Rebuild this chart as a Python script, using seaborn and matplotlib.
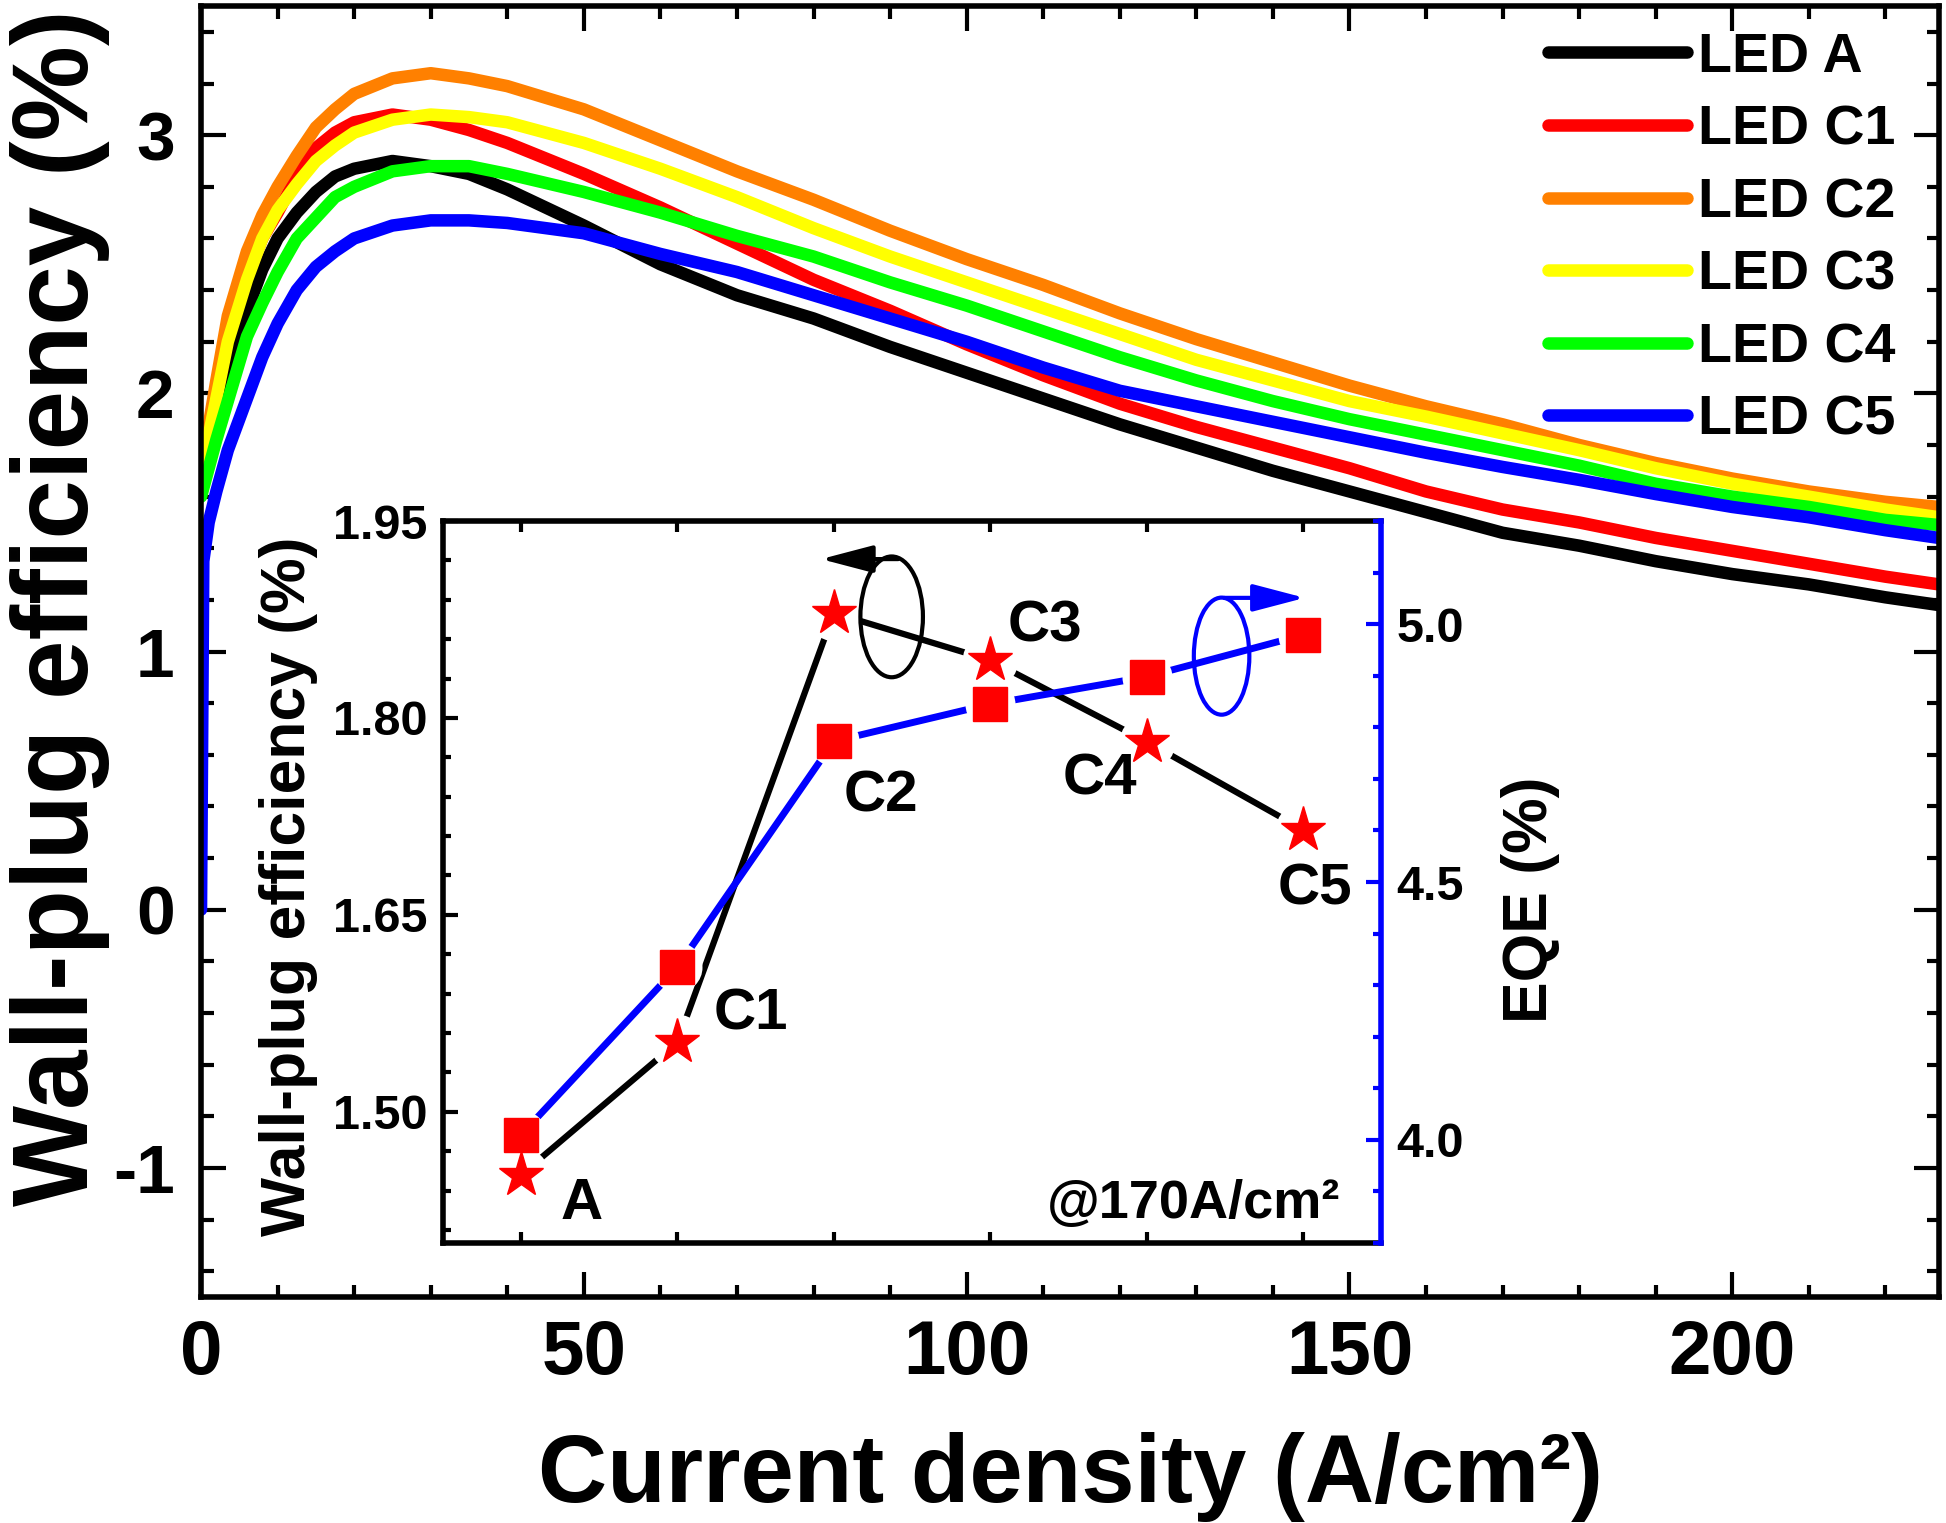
import numpy as np
import pandas as pd
import matplotlib
matplotlib.use("Agg")
import matplotlib.pyplot as plt
from matplotlib.patches import Ellipse
from matplotlib.ticker import MultipleLocator, FormatStrFormatter
import seaborn as sns

# wall-plug efficiency (%) vs current density (A/cm2)
j_common = [0, 2, 3.5, 6, 8, 10, 12.5, 15, 17.5, 20, 25, 30, 35, 40, 50, 60, 70,
            80, 90, 100, 110, 120, 130, 140, 150, 160, 170, 180, 190, 200, 210, 220, 227]
wpe_a = [1.68, 1.95, 2.12, 2.32, 2.48, 2.60, 2.70, 2.78, 2.84, 2.87, 2.90, 2.88, 2.85, 2.79,
         2.65, 2.50, 2.38, 2.29, 2.18, 2.08, 1.98, 1.88, 1.79, 1.70, 1.62, 1.54, 1.46, 1.41,
         1.35, 1.30, 1.26, 1.21, 1.18]
wpe_c1 = [1.69, 2.00, 2.22, 2.45, 2.60, 2.70, 2.84, 2.95, 3.01, 3.05, 3.08, 3.06, 3.02, 2.97,
          2.85, 2.72, 2.58, 2.44, 2.32, 2.19, 2.07, 1.96, 1.87, 1.79, 1.71, 1.62, 1.55, 1.50,
          1.44, 1.39, 1.34, 1.29, 1.26]
wpe_c2 = [1.70, 2.05, 2.30, 2.55, 2.69, 2.80, 2.92, 3.03, 3.10, 3.16, 3.22, 3.24, 3.22, 3.19,
          3.10, 2.98, 2.86, 2.75, 2.63, 2.52, 2.42, 2.31, 2.21, 2.12, 2.03, 1.95, 1.88, 1.80,
          1.73, 1.67, 1.62, 1.58, 1.56]
wpe_c3 = [1.69, 1.98, 2.20, 2.44, 2.60, 2.71, 2.81, 2.90, 2.96, 3.01, 3.06, 3.08, 3.07, 3.05,
          2.97, 2.87, 2.76, 2.64, 2.53, 2.43, 2.33, 2.23, 2.13, 2.05, 1.97, 1.91, 1.845, 1.78,
          1.71, 1.65, 1.60, 1.55, 1.52]
wpe_c4 = [1.60, 1.82, 1.97, 2.22, 2.35, 2.47, 2.60, 2.68, 2.76, 2.80, 2.86, 2.88, 2.88, 2.85,
          2.78, 2.70, 2.61, 2.53, 2.43, 2.34, 2.24, 2.14, 2.05, 1.97, 1.90, 1.84, 1.78, 1.72,
          1.65, 1.60, 1.56, 1.51, 1.49]
j_c5 = [0, 0.3, 1, 2, 3.5, 6, 8, 10, 12.5, 15, 17.5, 20, 25, 30, 35, 40, 50, 60, 70,
        80, 90, 100, 110, 120, 130, 140, 150, 160, 170, 180, 190, 200, 210, 220, 227]
wpe_c5 = [0.0, 1.35, 1.50, 1.62, 1.78, 1.98, 2.14, 2.27, 2.40, 2.49, 2.55, 2.60, 2.65, 2.67,
          2.67, 2.66, 2.62, 2.54, 2.47, 2.38, 2.29, 2.20, 2.10, 2.01, 1.95, 1.89, 1.83, 1.77,
          1.715, 1.665, 1.61, 1.56, 1.52, 1.47, 1.44]

led_names = ["LED A", "LED C1", "LED C2", "LED C3", "LED C4", "LED C5"]
led_colors = ["#000000", "#FF0000", "#FF8000", "#FFFF00", "#00FF00", "#0000FF"]

# inset: values at 170 A/cm2
inset_pos = [1, 2, 3, 4, 5, 6]
inset_labels = ["A", "C1", "C2", "C3", "C4", "C5"]
inset_wpe = [1.452, 1.553, 1.880, 1.844, 1.782, 1.715]
inset_eqe = [4.01, 4.335, 4.773, 4.845, 4.898, 4.979]

frames = []
for name, jj, ww in zip(led_names,
                        [j_common] * 5 + [j_c5],
                        [wpe_a, wpe_c1, wpe_c2, wpe_c3, wpe_c4, wpe_c5]):
    frames.append(pd.DataFrame({"J": jj, "WPE": ww, "LED": name}))
df = pd.concat(frames, ignore_index=True)

sns.set_style("ticks")
plt.rcParams['font.family'] = ['Liberation Sans', 'DejaVu Sans']
plt.rcParams['font.weight'] = 'bold'
plt.rcParams['axes.unicode_minus'] = False
for key in ['text.color', 'axes.labelcolor', 'xtick.color', 'ytick.color', 'axes.edgecolor']:
    plt.rcParams[key] = 'black'

fig = plt.figure(figsize=(19.46, 15.23), dpi=100)
ax = fig.add_axes([0.1033, 0.1484, 0.8931, 0.8476])

sns.lineplot(data=df, x="J", y="WPE", hue="LED", hue_order=led_names,
             palette=dict(zip(led_names, led_colors)), sort=False, estimator=None,
             lw=9, legend=False, ax=ax)
for ln in ax.get_lines():
    ln.set_solid_capstyle('round')

ax.set_xlim(0, 227)
ax.set_ylim(-1.5, 3.5)
ax.xaxis.set_major_locator(MultipleLocator(50))
ax.xaxis.set_minor_locator(MultipleLocator(10))
ax.yaxis.set_major_locator(MultipleLocator(1))
ax.yaxis.set_minor_locator(MultipleLocator(0.2))
ax.tick_params(which='both', direction='in', top=True, right=True, width=3)
ax.tick_params(which='major', length=18)
ax.tick_params(which='minor', length=9)
ax.tick_params(axis='x', pad=16, labelsize=55)
ax.tick_params(axis='y', pad=19, labelsize=50)
for sp in ax.spines.values():
    sp.set_linewidth(4)

ax.set_xlabel("Current density (A/cm²)", fontsize=69, fontweight='bold')
ax.xaxis.label.set_va('baseline')
ax.xaxis.set_label_coords(0.5, -0.159)
ax.set_ylabel("Wall-plug efficiency (%)", fontsize=77, fontweight='bold')
ax.yaxis.label.set_va('center')
ax.yaxis.set_label_coords(-0.081, 0.534)

ax.legend(ax.get_lines(), led_names, loc='upper left', bbox_to_anchor=(0.775, 0.98),
          frameon=False, prop=dict(size=40, weight='bold'), handlelength=2.5,
          handletextpad=0.2, labelspacing=0.37, borderpad=0, borderaxespad=0)

# inset: WPE on the left axis, EQE on the right axis
ax_in = fig.add_axes([0.2276, 0.1838, 0.4821, 0.4741])
ax_in.set_facecolor('white')
ax_r = ax_in.twinx()
ax_in.set_xlim(0.5, 6.5)
ax_in.set_ylim(1.40, 1.95)
ax_r.set_ylim(3.8, 5.2)
eqe_tr = ax_r.transData

# lines, then white halos so the lines stop short of the markers, then markers
sns.lineplot(x=inset_pos, y=inset_wpe, ax=ax_in, color='black', lw=4.5, zorder=2)
ax_in.plot(inset_pos, inset_eqe, color='blue', lw=5, zorder=2, transform=eqe_tr)
ax_in.plot(inset_pos, inset_wpe, ls='none', marker='o', ms=40, mfc='white', mec='none', zorder=3)
ax_in.plot(inset_pos, inset_eqe, ls='none', marker='o', ms=36, mfc='white', mec='none',
           zorder=3, transform=eqe_tr)
ax_in.plot(inset_pos, inset_wpe, ls='none', marker='*', ms=34, mfc='red', mec='red', zorder=4)
ax_in.plot(inset_pos, inset_eqe, ls='none', marker='s', ms=25, mfc='red', mec='red',
           zorder=4, transform=eqe_tr)
ax_in.set_xlim(0.5, 6.5)
ax_in.set_ylim(1.40, 1.95)

ax_in.set_xticks(inset_pos)
ax_in.set_xticklabels([])
ax_in.yaxis.set_minor_locator(MultipleLocator(0.03))
ax_in.set_yticks([1.50, 1.65, 1.80, 1.95])
ax_in.yaxis.set_major_formatter(FormatStrFormatter('%.2f'))
ax_r.set_yticks([4.0, 4.5, 5.0])
ax_r.yaxis.set_minor_locator(MultipleLocator(0.1))
ax_r.yaxis.set_major_formatter(FormatStrFormatter('%.1f'))

ax_in.tick_params(which='both', direction='in', width=3, labelsize=35, pad=11)
ax_in.tick_params(axis='x', which='both', top=True, length=8)
ax_in.tick_params(axis='y', which='major', length=11)
ax_in.tick_params(axis='y', which='minor', length=6)
ax_r.tick_params(axis='y', which='both', direction='in', width=3, colors='blue',
                 labelcolor='black', labelsize=35, pad=11)
ax_r.tick_params(axis='y', which='major', length=11)
ax_r.tick_params(axis='y', which='minor', length=6)
for sp in ax_in.spines.values():
    sp.set_linewidth(4)
ax_in.spines['right'].set_visible(False)
for side in ['left', 'top', 'bottom']:
    ax_r.spines[side].set_visible(False)
ax_r.spines['right'].set_color('blue')
ax_r.spines['right'].set_linewidth(4)

ax_in.set_xlabel("")
ax_in.set_ylabel("Wall-plug efficiency (%)", fontsize=45, fontweight='bold')
ax_in.yaxis.set_label_coords(-0.133, 0.494)
ax_r.set_ylabel("EQE (%)", fontsize=45, fontweight='bold', rotation=90)
ax_r.yaxis.set_label_coords(1.128, 0.475)

# point labels
label_xy = [(1.39, 1.430), (2.47, 1.574), (3.30, 1.740), (4.35, 1.870), (4.70, 1.753), (6.08, 1.669)]
for txt, (lx, ly) in zip(inset_labels, label_xy):
    ax_in.text(lx, ly, txt, fontsize=42, fontweight='bold', ha='center', va='center', zorder=5)
ax_in.text(6.24, 1.430, "@170A/cm²", fontsize=39, fontweight='bold', ha='right', va='center')

# axis indicator ellipses and arrows
ax_in.add_patch(Ellipse((3.37, 1.877), 0.40, 0.092, fill=False, ec='black', lw=3, zorder=5))
ax_in.annotate("", xy=(2.90, 1.921), xytext=(3.43, 1.921),
               arrowprops=dict(arrowstyle='-|>,head_length=1.6,head_width=0.42',
                               mutation_scale=20, color='black', lw=3))
ax_r.add_patch(Ellipse((5.48, 4.938), 0.355, 0.227, fill=False, ec='blue', lw=3))
ax_r.annotate("", xy=(6.03, 5.051), xytext=(5.48, 5.051),
              arrowprops=dict(arrowstyle='-|>,head_length=1.6,head_width=0.42',
                              mutation_scale=20, color='blue', lw=3))

fig.savefig("out.png", dpi=100)
